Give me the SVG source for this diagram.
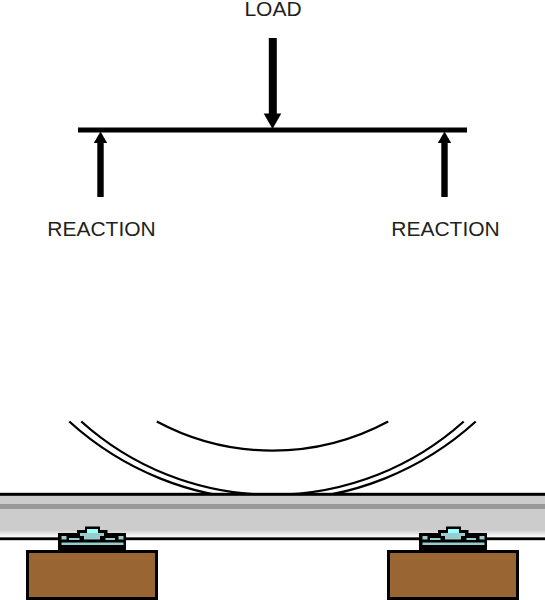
<svg xmlns="http://www.w3.org/2000/svg" width="545" height="600" viewBox="0 0 545 600">
<style>
text{font-family:"Liberation Sans",Arial,sans-serif;font-size:21px;fill:#231f20;text-anchor:middle}
.arc{fill:none;stroke:#000;stroke-width:2.300}
.wood{fill:#996633;stroke:#000;stroke-width:3}
.t{fill:#99cccc}
</style>
<defs>
<linearGradient id="shine" x1="0" y1="0" x2="0" y2="1"><stop offset="0" stop-color="#cccccc"/><stop offset="1" stop-color="#ffffff"/></linearGradient>
<g id="chair">
<path d="M58 550V533H77V530H85V526.500H100V530H107.500V533H126V550Z" fill="#000"/>
<rect x="87" y="529" width="11" height="4" fill="#99ffff"/>
<path class="t" d="M80 533H104V536H100V539.500H84V536H80Z"/>
<rect class="t" x="61.500" y="536" width="5" height="3.500"/>
<rect class="t" x="69" y="538" width="10.500" height="2"/>
<rect class="t" x="105.500" y="538" width="9.500" height="2"/>
<rect class="t" x="118.500" y="536" width="5" height="3.500"/>
<rect class="t" x="61.500" y="542.500" width="62" height="2.500"/>
</g>
</defs>
<g id="load"><text x="273" y="16">LOAD</text>
<rect x="268.800" y="38" width="8" height="77"/><path d="M263.700 113.500H281.300L272.500 129Z"/></g>
<g id="beam"><rect x="78" y="127.500" width="389" height="5"/></g>
<g id="reaction-left"><rect x="97.300" y="142" width="6.400" height="55"/><path d="M93.800 143L100.500 131.500L107.200 143Z"/><text x="101.500" y="236">REACTION</text></g>
<g id="reaction-right"><rect x="441.300" y="142" width="6.400" height="55"/><path d="M437.800 143L444.500 131.500L451.200 143Z"/><text x="445.500" y="236">REACTION</text></g>
<g id="deflection">
<path class="arc" d="M69.300 421.500A302 302 0 0 0 475.700 421.500"/>
<path class="arc" d="M81.300 421.500A286 286 0 0 0 463.700 421.500"/>
<path class="arc" d="M156.800 421.500A244.500 244.500 0 0 0 388.200 421.500"/>
</g>
<g id="rail">
<rect x="-2" y="494.300" width="549" height="44.400" fill="#cccccc" stroke="#000" stroke-width="3"/>
<rect x="0" y="504" width="545" height="5" fill="#999999"/>
<rect x="0" y="530" width="545" height="7.200" fill="url(#shine)"/>
</g>
<g id="sleeper-left"><rect class="wood" x="27.500" y="551.500" width="129" height="47"/><use href="#chair"/></g>
<g id="sleeper-right"><rect class="wood" x="388.500" y="551.500" width="129" height="47"/><use href="#chair" x="361"/></g>
</svg>
